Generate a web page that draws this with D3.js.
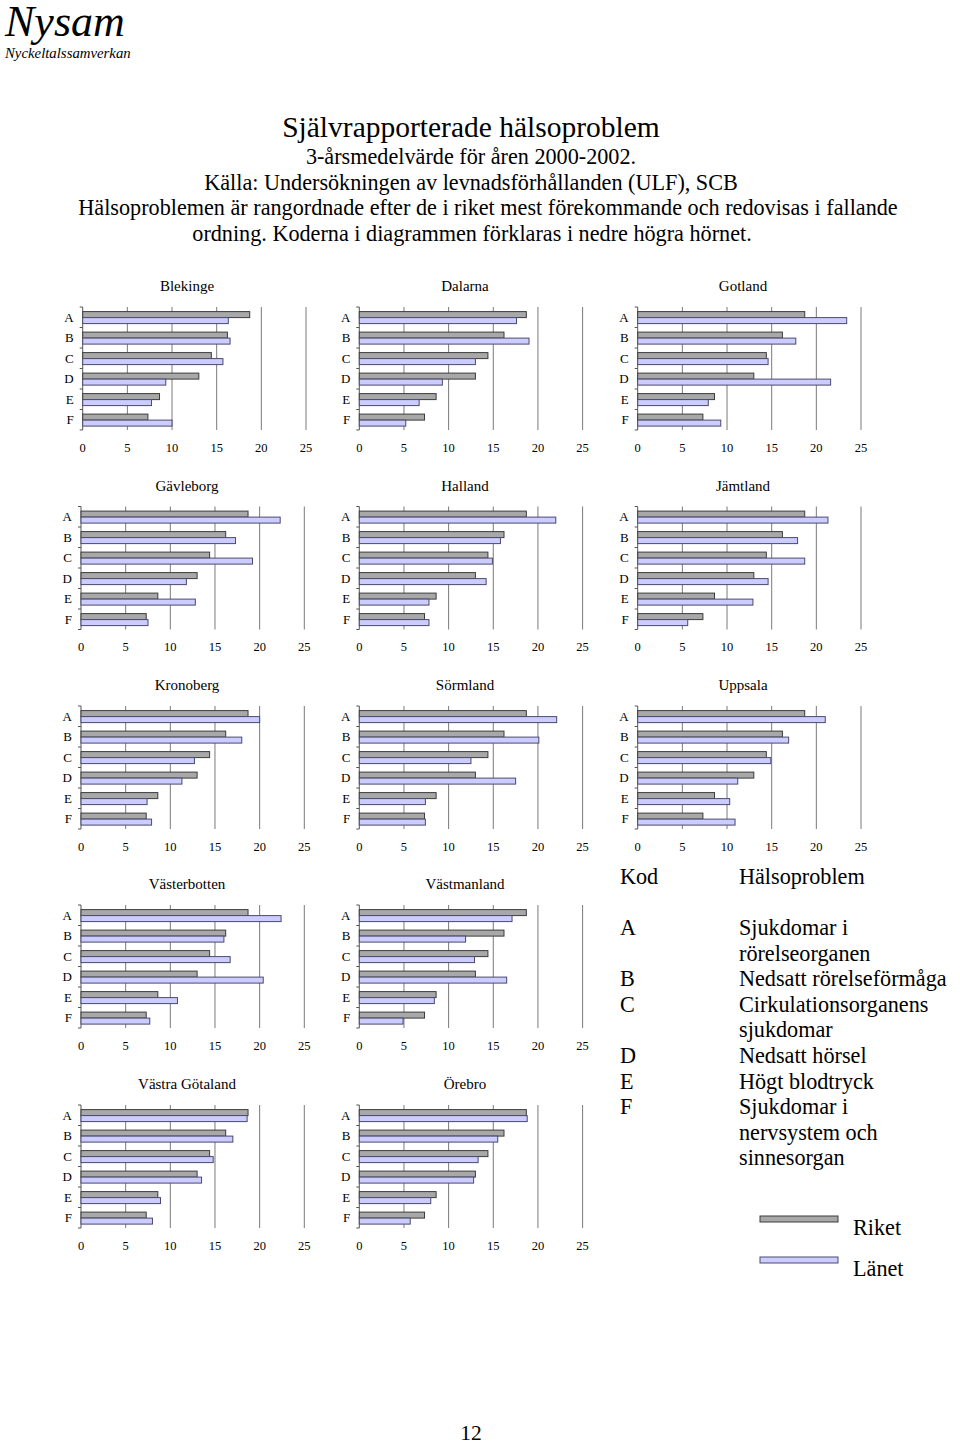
<!DOCTYPE html>
<html><head><meta charset="utf-8">
<script src="https://cdn.jsdelivr.net/npm/d3@7"></script>
<style>body{margin:0;background:#fff}svg{display:block}text{font-family:"Liberation Serif","Times New Roman",serif;fill:#000}</style>
</head><body>
<script>
const categories = ["A","B","C","D","E","F"];
const xTicks = [0,5,10,15,20,25];
const riket = [18.7,16.2,14.4,13.0,8.6,7.3];
const countyNames = ["Blekinge","Dalarna","Gotland","Gävleborg","Halland","Jämtland","Kronoberg","Sörmland","Uppsala","Västerbotten","Västmanland","Västra Götaland","Örebro"];
const lanetBlekinge = [16.3,16.5,15.7,9.3,7.7,10.0];
const lanetDalarna = [17.6,19.0,13.0,9.3,6.7,5.2];
const lanetGotland = [23.4,17.7,14.6,21.6,7.9,9.3];
const lanetGavleborg = [22.3,17.3,19.2,11.8,12.8,7.5];
const lanetHalland = [22.0,15.8,14.9,14.2,7.8,7.8];
const lanetJamtland = [21.3,17.9,18.7,14.6,12.9,5.6];
const lanetKronoberg = [20.0,18.0,12.7,11.3,7.4,7.9];
const lanetSormland = [22.1,20.1,12.5,17.5,7.4,7.4];
const lanetUppsala = [21.0,16.9,14.9,11.2,10.3,10.9];
const lanetVasterbotten = [22.4,16.0,16.7,20.4,10.8,7.7];
const lanetVastmanland = [17.1,11.9,12.9,16.5,8.4,4.9];
const lanetVastraGotaland = [18.6,17.0,14.8,13.5,8.9,8.0];
const lanetOrebro = [18.8,15.5,13.3,12.8,8.0,5.7];
const lanetSeries = [lanetBlekinge,lanetDalarna,lanetGotland,lanetGavleborg,lanetHalland,lanetJamtland,lanetKronoberg,lanetSormland,lanetUppsala,lanetVasterbotten,lanetVastmanland,lanetVastraGotaland,lanetOrebro];
const legendCodes = ["A","B","C","D","E","F"];
const legendDescriptions = [["Sjukdomar i","rörelseorganen"],["Nedsatt rörelseförmåga"],["Cirkulationsorganens","sjukdomar"],["Nedsatt hörsel"],["Högt blodtryck"],["Sjukdomar i","nervsystem och","sinnesorgan"]];
const seriesNames = ["Riket","Länet"];

const W = 960, H = 1444;
const svg = d3.select("body").append("svg").attr("width", W).attr("height", H);

const RIKET_FILL = "#a8a8a8", RIKET_STROKE = "#3c3c3c";
const LAN_FILL = "#ccccff", LAN_STROKE = "#4a4a6e";
const BODY = 22.2;

// header
svg.append("text").attr("x", 5).attr("y", 36).attr("font-size", 44).attr("font-style", "italic").text("Nysam");
svg.append("text").attr("x", 5).attr("y", 58).attr("font-size", 14.8).attr("font-style", "italic").text("Nyckeltalssamverkan");
svg.append("text").attr("x", 471).attr("y", 137).attr("font-size", 29.5).attr("text-anchor", "middle").text("Självrapporterade hälsoproblem");
const sub = ["3-årsmedelvärde för åren 2000-2002.","Källa: Undersökningen av levnadsförhållanden (ULF), SCB","Hälsoproblemen är rangordnade efter de i riket mest förekommande och redovisas i fallande","ordning. Koderna i diagrammen förklaras i nedre högra hörnet."];
const subX = [471, 471, 488, 472];
sub.forEach((s,i)=>svg.append("text").attr("x", subX[i]).attr("y", 164 + i*25.5).attr("font-size", BODY).attr("text-anchor","middle").text(s));

const colX0 = [81, 359.3, 637.7];
const rowTop = [307, 506.5, 706, 905, 1105];
const plotW = 223.3, plotH = 123;
const slots = [[0,0],[1,0],[2,0],[0,1],[1,1],[2,1],[0,2],[1,2],[2,2],[0,3],[1,3],[0,4],[1,4]];

countyNames.forEach((name, i) => {
  const [col, row] = slots[i];
  let x0 = colX0[col];
  if (i === 0) x0 = 82.7;
  const top = rowTop[row];
  const g = svg.append("g");
  const x = d3.scaleLinear().domain([0,25]).range([x0, x0 + plotW]);
  const y = d3.scaleBand().domain(categories).range([top, top + plotH]);
  const titleX = [187, 465, 743][col];
  g.append("text").attr("x", titleX).attr("y", top - 16).attr("font-size", 15).attr("text-anchor", "middle").text(name);
  g.selectAll("line.grid").data(xTicks.slice(1)).join("line")
    .attr("x1", d=>x(d)).attr("x2", d=>x(d)).attr("y1", top).attr("y2", top+plotH)
    .attr("stroke", "#7a7a7a").attr("stroke-width", 1);
  g.append("line").attr("x1", x0).attr("x2", x0).attr("y1", top).attr("y2", top+plotH).attr("stroke", "#555").attr("stroke-width",1);
  const bounds = d3.range(categories.length + 1).map(k => top + k * y.step());
  g.selectAll("line.tk").data(bounds).join("line")
    .attr("x1", x0 - 3).attr("x2", x0).attr("y1", d=>d).attr("y2", d=>d).attr("stroke", "#555");
  g.selectAll("text.cat").data(categories).join("text")
    .attr("x", x0 - 9).attr("y", d => y(d) + y.bandwidth()/2 + 4.5)
    .attr("font-size", 13).attr("text-anchor", "end").text(d=>d);
  g.selectAll("text.xt").data(xTicks).join("text")
    .attr("x", d=>x(d)).attr("y", top + plotH + 21.5).attr("font-size", 12.5).attr("text-anchor","middle").text(d=>d);
  const pad = 4.6, bh = 6;
  g.selectAll("rect.r").data(riket).join("rect")
    .attr("x", x0).attr("y", (d,k)=>y(categories[k]) + pad).attr("width", d=>x(d)-x0).attr("height", bh)
    .attr("fill", RIKET_FILL).attr("stroke", RIKET_STROKE).attr("stroke-width", 1);
  g.selectAll("rect.l").data(lanetSeries[i]).join("rect")
    .attr("x", x0).attr("y", (d,k)=>y(categories[k]) + pad + bh).attr("width", d=>x(d)-x0).attr("height", bh)
    .attr("fill", LAN_FILL).attr("stroke", LAN_STROKE).attr("stroke-width", 1);
});

// code legend
svg.append("text").attr("x", 620).attr("y", 884).attr("font-size", BODY).text("Kod");
svg.append("text").attr("x", 739).attr("y", 884).attr("font-size", BODY).text("Hälsoproblem");
let line = 0;
const lh = 25.6, ly0 = 935;
legendCodes.forEach((c, i) => {
  svg.append("text").attr("x", 620).attr("y", ly0 + line*lh).attr("font-size", BODY).text(c);
  legendDescriptions[i].forEach((t, j) => {
    svg.append("text").attr("x", 739).attr("y", ly0 + (line+j)*lh).attr("font-size", BODY).text(t);
  });
  line += legendDescriptions[i].length;
});

// series legend
const sw = [[RIKET_FILL, RIKET_STROKE, 1216],[LAN_FILL, LAN_STROKE, 1257]];
seriesNames.forEach((n, i) => {
  svg.append("rect").attr("x", 760).attr("y", sw[i][2]).attr("width", 78).attr("height", 6)
    .attr("fill", sw[i][0]).attr("stroke", sw[i][1]);
  svg.append("text").attr("x", 853).attr("y", sw[i][2] + 19).attr("font-size", BODY).text(n);
});

svg.append("text").attr("x", 471).attr("y", 1440).attr("font-size", 21.5).attr("text-anchor","middle").text("12");
</script>
</body></html>
